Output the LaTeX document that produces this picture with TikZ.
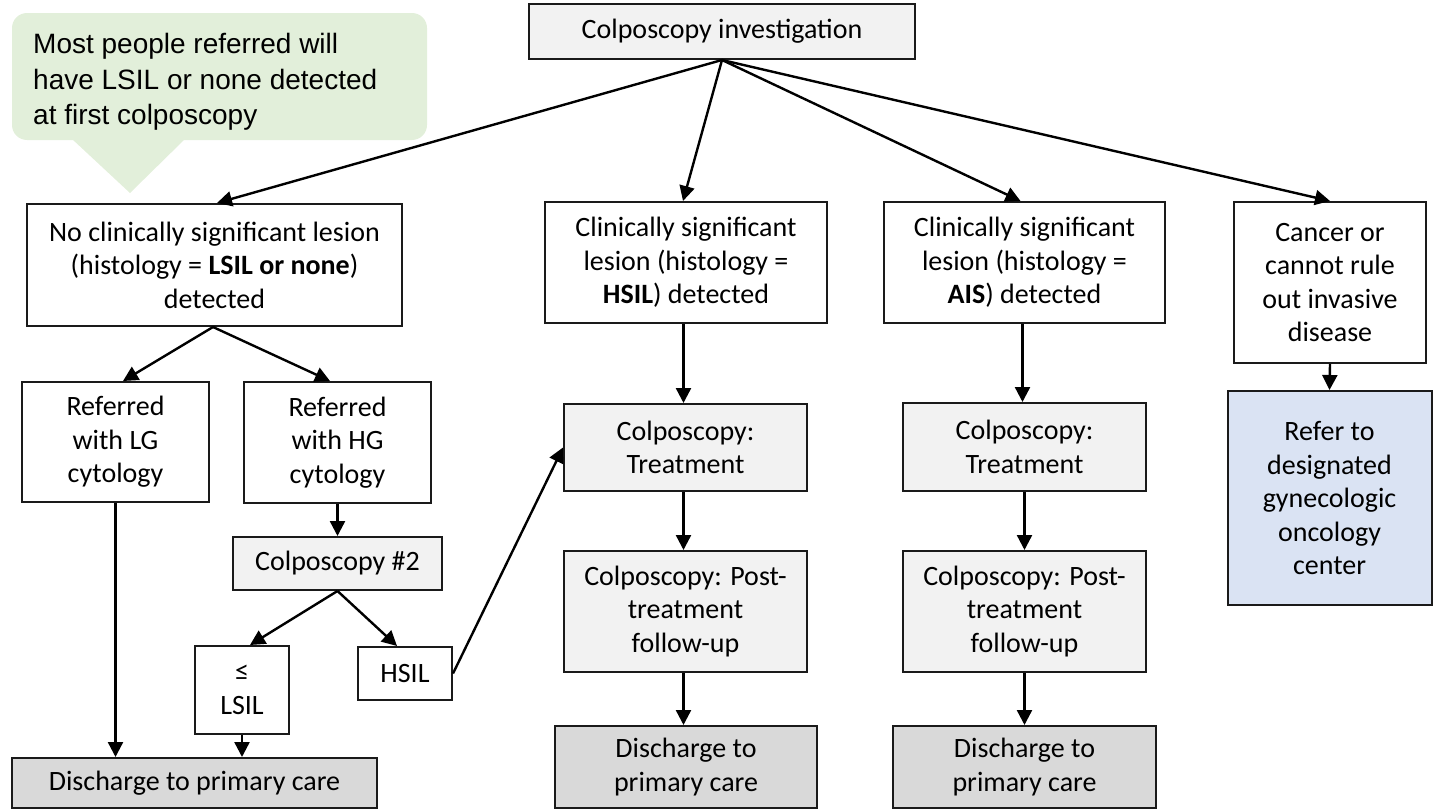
\documentclass[tikz,border=0pt]{standalone}
\usepackage{fontspec}
\setmainfont{Carlito}
\newfontfamily\arialfont{Liberation Sans}
\usetikzlibrary{arrows.meta}
\definecolor{lightgr}{HTML}{F2F2F2}
\definecolor{midgr}{HTML}{D9D9D9}
\definecolor{bluef}{HTML}{DAE3F3}
\definecolor{greenf}{HTML}{E2EFDA}
\definecolor{edge}{HTML}{1A1A1A}
\tikzset{
  box/.style={draw=edge, line width=2pt, fill=white, inner sep=0pt, align=center,
    font=\fontsize{28}{33.5}\selectfont},
  gbox/.style={box, fill=lightgr},
  dbox/.style={box, fill=midgr},
  bbox/.style={box, fill=bluef},
  arr/.style={line width=2.4pt, draw=black, -{Triangle[length=15pt,width=15pt]}},
}
\begin{document}
\begin{tikzpicture}[x=1pt,y=-1pt]
\useasboundingbox (0,0) rectangle (1433,811);
% callout
\fill[greenf, rounded corners=15pt] (12,13) rectangle (427,140);
\fill[greenf] (72,139) -- (130,193) -- (185,139) -- cycle;
\node[anchor=west, align=left, inner sep=0pt, font=\arialfont\fontsize{28}{35.5}\selectfont] (callout) at (33,82)
  {Most people referred will\\have LSIL or none detected\\at first colposcopy};
% nodes
\node[gbox, minimum width=386pt, minimum height=55pt] (top) at (722,31.5) {Colposcopy investigation};
\node[box, minimum width=375pt, minimum height=122pt] (b1) at (214.5,265) {No clinically significant lesion\\(histology = \textbf{LSIL or none})\\detected};
\node[box, minimum width=282pt, minimum height=121pt] (b2) at (686,262.5) {Clinically significant\\lesion (histology =\\\textbf{HSIL}) detected};
\node[box, minimum width=281pt, minimum height=121pt] (b3) at (1024.5,262.5) {Clinically significant\\lesion (histology =\\\textbf{AIS}) detected};
\node[box, minimum width=192pt, minimum height=161pt] (b4) at (1330,282.5) {Cancer or\\cannot rule\\out invasive\\disease};
\node[bbox, minimum width=204pt, minimum height=214pt] (onc) at (1329.5,498) {Refer to\\designated\\gynecologic\\oncology\\center};
\node[box, minimum width=187pt, minimum height=120pt] (lg) at (115.5,442) {Referred\\with LG\\cytology};
\node[box, minimum width=187pt, minimum height=121pt] (hg) at (337.5,442.5) {Referred\\with HG\\cytology};
\node[gbox, minimum width=209pt, minimum height=53pt] (c2) at (337.5,563.5) {Colposcopy \#2};
\node[box, minimum width=94pt, minimum height=88pt] (lsil) at (242,690) {≤\\LSIL};
\node[box, minimum width=94pt, minimum height=53pt] (hsil) at (405,673.5) {HSIL};
\node[dbox, minimum width=365pt, minimum height=50pt] (d1) at (194.5,783) {Discharge to primary care};
\node[gbox, minimum width=243pt, minimum height=87pt] (t2) at (685.5,447.5) {Colposcopy:\\Treatment};
\node[gbox, minimum width=243pt, minimum height=121pt] (p2) at (685.5,611.5) {Colposcopy: Post-\\treatment\\follow-up};
\node[dbox, minimum width=262pt, minimum height=82pt] (d2) at (686,767) {Discharge to\\primary care};
\node[gbox, minimum width=243pt, minimum height=88pt] (t3) at (1024.5,447) {Colposcopy:\\Treatment};
\node[gbox, minimum width=243pt, minimum height=121pt] (p3) at (1024.5,611.5) {Colposcopy: Post-\\treatment\\follow-up};
\node[dbox, minimum width=263pt, minimum height=82pt] (d3) at (1024.5,767) {Discharge to\\primary care};
% connectors
\draw[arr] (top.south) -- ([xshift=2.5pt]b1.north);
\draw[arr] (top.south) -- ([xshift=-3pt]b2.north);
\draw[arr] (top.south) -- ([xshift=-4pt]b3.north);
\draw[arr] (top.south) -- (b4.north);
\draw[arr] (b4.south) -- (onc.north);
\draw[arr] ([xshift=-1.5pt]b1.south) -- ([xshift=7.5pt]lg.north);
\draw[arr] ([xshift=-1.5pt]b1.south) -- ([xshift=-7.5pt]hg.north);
\draw[arr] (hg.south) -- (c2.north);
\draw[arr] (lg.south) -- (lg.south |- d1.north);
\draw[arr] (c2.south) -- ([xshift=8pt]lsil.north);
\draw[arr] (c2.south) -- ([xshift=-8pt]hsil.north);
\draw[arr] (lsil.south) -- (lsil.south |- d1.north);
\draw[arr] (hsil.east) -- (t2.west);
\draw[arr] ([xshift=-2.5pt]b2.south) -- ([xshift=-2.5pt]b2.south |- t2.north);
\draw[arr] ([xshift=-2pt]t2.south) -- ([xshift=-2pt]t2.south |- p2.north);
\draw[arr] ([xshift=-2pt]p2.south) -- ([xshift=-2pt]p2.south |- d2.north);
\draw[arr] ([xshift=-2pt]b3.south) -- ([xshift=-2pt]b3.south |- t3.north);
\draw[arr] (t3.south) -- (t3.south |- p3.north);
\draw[arr] (p3.south) -- (p3.south |- d3.north);
\end{tikzpicture}
\end{document}
